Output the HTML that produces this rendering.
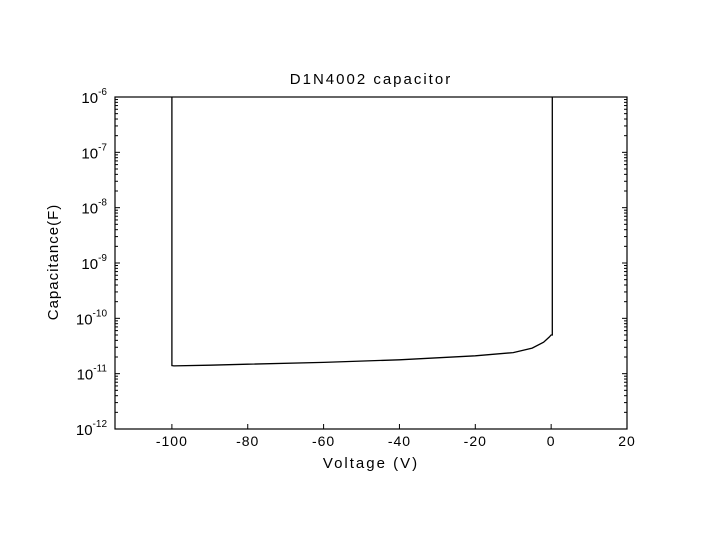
<!DOCTYPE html>
<html><head><meta charset="utf-8"><style>
body{margin:0;background:#fff;width:720px;height:540px;overflow:hidden}
text{font-family:"Liberation Sans",sans-serif;fill:#000}
</style></head><body>
<svg width="720" height="540" xmlns="http://www.w3.org/2000/svg">
<g id="g"></g>
</svg>
<script>
const xTicks=[-100,-80,-60,-40,-20,0,20];
const yExps=[-6,-7,-8,-9,-10,-11,-12];
const volts=[-100,-100,-99.5,-90,-80,-60,-40,-20,-10,-5,-2,-0.5,0,0.3,0.3];
const caps=[1e-6,1.4e-11,1.38e-11,1.42e-11,1.48e-11,1.6e-11,1.78e-11,2.1e-11,2.4e-11,2.9e-11,3.7e-11,4.6e-11,5e-11,5e-11,1e-6];
const L=115,R=627,T=97,B=429,xmin=-115,xmax=20;
const sx=v=>L+(v-xmin)/(xmax-xmin)*(R-L);
const sy=c=>T+(-6-Math.log10(c))/6*(B-T);
const g=document.getElementById('g');
const NS='http://www.w3.org/2000/svg';
function mk(t,a,txt){const e=document.createElementNS(NS,t);for(const k in a)e.setAttribute(k,a[k]);if(txt!==undefined)e.textContent=txt;g.appendChild(e);return e;}
let e=mk('rect',{x:L,y:T,width:R-L,height:B-T,fill:'none',stroke:'#000','stroke-width':1.2});


xTicks.forEach(v=>{const x=sx(v);
mk('line',{x1:x,x2:x,y1:B,y2:B-5,stroke:'#000'});
const t=mk('text',{x:x,y:B+17,'text-anchor':'middle','font-size':14,'letter-spacing':1},String(v));

});
yExps.forEach(p=>{const y=sy(Math.pow(10,p));
mk('line',{x1:L,x2:L+5,y1:y,y2:y,stroke:'#000'});mk('line',{x1:R,x2:R-5,y1:y,y2:y,stroke:'#000'});
if(p>-12){for(let m=2;m<10;m++){const yy=sy(m*Math.pow(10,p-1));
mk('line',{x1:L,x2:L+3,y1:yy,y2:yy,stroke:'#000'});mk('line',{x1:R,x2:R-3,y1:yy,y2:yy,stroke:'#000'});}}
const t=mk('text',{x:L-8,y:y+6,'text-anchor':'end','font-size':15});


t.innerHTML='10<tspan dy="-8" font-size="10">'+p+'</tspan>';});
const d=volts.map((v,i)=>(i?'L':'M')+sx(v).toFixed(1)+','+sy(caps[i]).toFixed(1)).join('');
e=mk('path',{d:d,fill:'none',stroke:'#000','stroke-width':1.3});


e=mk('text',{x:371,y:84,'text-anchor':'middle','font-size':15,'letter-spacing':2},'D1N4002 capacitor');


e=mk('text',{x:371,y:468,'text-anchor':'middle','font-size':15,'letter-spacing':2},'Voltage (V)');


e=mk('text',{x:0,y:0,'text-anchor':'middle','font-size':15,'letter-spacing':1,transform:'translate(58,262) rotate(-90)'},'Capacitance(F)');


</script>
</body></html>
